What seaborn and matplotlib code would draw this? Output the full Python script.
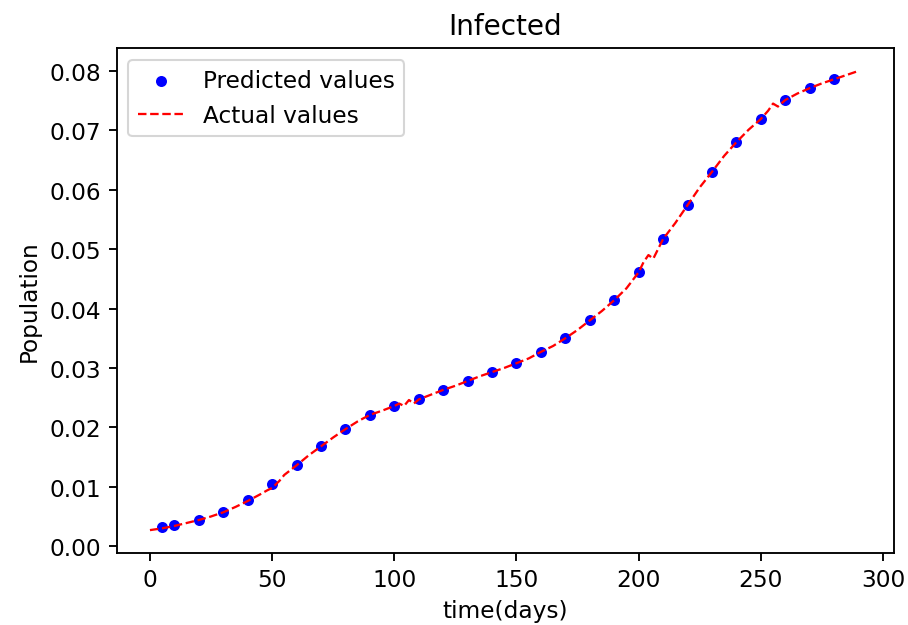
import matplotlib
matplotlib.use("Agg")
import matplotlib.pyplot as plt
import seaborn as sns
import pandas as pd

pred_days = [5, 10, 20, 30, 40, 50, 60, 70, 80, 90, 100, 110, 120, 130, 140,
             150, 160, 170, 180, 190, 200, 210, 220, 230, 240, 250, 260, 270, 280]
pred_vals = [0.0032, 0.0035, 0.0044, 0.0057, 0.0077, 0.0104, 0.0136, 0.0168, 0.0197,
             0.0221, 0.0236, 0.0247, 0.0263, 0.0278, 0.0293, 0.0308, 0.0327, 0.0350,
             0.0380, 0.0414, 0.0461, 0.0517, 0.0574, 0.0630, 0.0680, 0.0719, 0.0751,
             0.0771, 0.0786]

act_days = [0, 5, 10, 15, 20, 25, 30, 35, 40, 45, 48, 50, 53, 55, 60, 65, 70, 75, 80,
            85, 90, 95, 100, 102, 104, 106, 108, 110, 115, 120, 125, 130, 135, 140,
            145, 150, 155, 160, 165, 170, 175, 180, 185, 190, 195, 200, 202, 204,
            206, 210, 215, 220, 225, 230, 235, 240, 245, 250, 253, 255, 257, 260,
            265, 270, 275, 280, 285, 290]
act_vals = [0.0027, 0.0030, 0.0034, 0.0039, 0.0044, 0.0050, 0.0057, 0.0066, 0.0076,
            0.0087, 0.0094, 0.0098, 0.0110, 0.0120, 0.0136, 0.0153, 0.0168, 0.0183,
            0.0197, 0.0210, 0.0221, 0.0228, 0.0236, 0.0240, 0.0236, 0.0246, 0.0240,
            0.0247, 0.0255, 0.0263, 0.0270, 0.0278, 0.0286, 0.0293, 0.0300, 0.0308,
            0.0316, 0.0327, 0.0337, 0.0350, 0.0364, 0.0380, 0.0396, 0.0414, 0.0434,
            0.0461, 0.0478, 0.0490, 0.0484, 0.0517, 0.0544, 0.0574, 0.0604, 0.0630,
            0.0657, 0.0680, 0.0701, 0.0719, 0.0733, 0.0745, 0.0740, 0.0751, 0.0762,
            0.0771, 0.0779, 0.0786, 0.0793, 0.0800]

pred_df = pd.DataFrame({"day": pred_days, "value": pred_vals})
act_df = pd.DataFrame({"day": act_days, "value": act_vals})

sns.set_style("ticks")
plt.rcParams["font.family"] = ["DejaVu Sans"]
plt.rcParams["text.color"] = "black"
plt.rcParams["axes.labelcolor"] = "black"

fig = plt.figure(figsize=(909 / 150, 626 / 150), dpi=150)
ax = fig.add_axes([0.1284, 0.1155, 0.8551, 0.8057])

sns.scatterplot(data=pred_df, x="day", y="value", ax=ax, color="blue", s=28,
                edgecolor="blue", linewidth=0, label="Predicted values", zorder=2)
sns.lineplot(data=act_df, x="day", y="value", ax=ax, color="red", linestyle="--",
             linewidth=1.1, label="Actual values", zorder=3)

fs = 11.2
ax.set_xlim(-13.6, 304.5)
ax.set_ylim(-0.0011, 0.0838)
ax.set_xticks([0, 50, 100, 150, 200, 250, 300])
ax.set_yticks([0.00, 0.01, 0.02, 0.03, 0.04, 0.05, 0.06, 0.07, 0.08])
ax.set_yticklabels(["0.00", "0.01", "0.02", "0.03", "0.04", "0.05", "0.06", "0.07", "0.08"])
ax.tick_params(labelsize=fs, length=3.9, width=0.9, color="black", labelcolor="black")
for s in ax.spines.values():
    s.set_color("black")
    s.set_linewidth(0.9)
ax.set_xlabel("time(days)", fontsize=fs, color="black")
ax.set_ylabel("Population", fontsize=fs, color="black")
ax.set_title("Infected", fontsize=13.4, color="black", pad=7)
leg = ax.legend(loc="upper left", fontsize=fs, frameon=True, framealpha=0.8,
                edgecolor="#cccccc", fancybox=True)
for t in leg.get_texts():
    t.set_color("black")

fig.savefig("out.png", dpi=150)
